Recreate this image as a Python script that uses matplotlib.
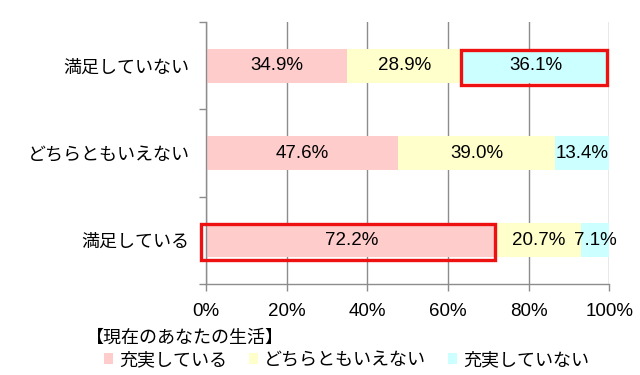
import matplotlib
matplotlib.use("Agg")
import matplotlib.pyplot as plt
from matplotlib.patches import Rectangle, Patch

plt.rcParams['font.family'] = ['Noto Sans CJK JP', 'DejaVu Sans']

# data (bottom -> top)
categories = ["満足している", "どちらともいえない", "満足していない"]
series_names = ["充実している", "どちらともいえない", "充実していない"]
juujitsu = [72.2, 47.6, 34.9]
dochira = [20.7, 39.0, 28.9]
not_juujitsu = [7.1, 13.4, 36.1]
highlight = [(0, 0), (2, 2)]  # (category index, series index)

colors = ["#FFCCCC", "#FFFFCC", "#CCFFFF"]
grid_c = "#8C8C8C"
num_font = ['Liberation Sans', 'DejaVu Sans']

fig = plt.figure(figsize=(6.4, 3.75), dpi=100)
ax = fig.add_axes([0.322, 0.243, 0.630, 0.698])

y = list(range(len(categories)))
height = 0.39
left = [0.0] * len(categories)
bars_all = []
for vals, col in zip([juujitsu, dochira, not_juujitsu], colors):
    bars = ax.barh(y, vals, height=height, left=left, color=col, zorder=2)
    bars_all.append(bars)
    for b, v in zip(bars, vals):
        ax.text(b.get_x() + b.get_width() / 2, b.get_y() + b.get_height() / 2,
                f"{v:.1f}%", ha="center", va="center", fontsize=13.5,
                family=num_font, zorder=4)
    left = [l + v for l, v in zip(left, vals)]

# red highlight boxes
for ci, si in highlight:
    b = bars_all[si][ci]
    rx = b.get_x() - 0.6
    if ci == 0:
        rx = b.get_x() - 1.2
    ax.add_patch(Rectangle((rx, b.get_y() - 0.03), b.get_x() + b.get_width() - rx - 0.5,
                           b.get_height() + 0.02, fill=False, edgecolor="#EE1111",
                           linewidth=2.4, zorder=5, clip_on=False))

ax.set_xlim(0, 100)
ax.set_ylim(-0.5, len(categories) - 0.5)
ax.set_xticks([0, 20, 40, 60, 80, 100])
ax.set_xticklabels([f"{t}%" for t in [0, 20, 40, 60, 80, 100]], family=num_font, fontsize=13.5)
ax.set_yticks([-0.5, 0.5, 1.5, 2.5])
ax.set_yticklabels([])
ax.set_yticks(y, minor=True)
ax.set_yticklabels(categories, minor=True, fontsize=13)
ax.tick_params(axis="y", which="minor", length=0, pad=12)
ax.tick_params(axis="y", which="major", length=5, color=grid_c, width=1)
ax.tick_params(axis="x", length=5, color=grid_c, width=1, pad=9)
ax.xaxis.grid(True, color=grid_c, linewidth=1, zorder=0)
ax.set_axisbelow(True)
for s in ["top", "right"]:
    ax.spines[s].set_visible(False)
for s in ["left", "bottom"]:
    ax.spines[s].set_color(grid_c)
    ax.spines[s].set_linewidth(1)

# legend
fig.text(0.135, 0.099, "【現在のあなたの生活】", fontsize=13, va="center", ha="left")
handles = [Patch(facecolor=c, edgecolor="none") for c in colors]
fig.legend(handles, series_names, loc="center left", bbox_to_anchor=(0.162, 0.040),
           ncol=3, frameon=False, fontsize=13, handlelength=0.5, handleheight=0.5,
           handletextpad=0.35, columnspacing=1.2, borderpad=0, borderaxespad=0)

fig.savefig("out.png", dpi=100)
